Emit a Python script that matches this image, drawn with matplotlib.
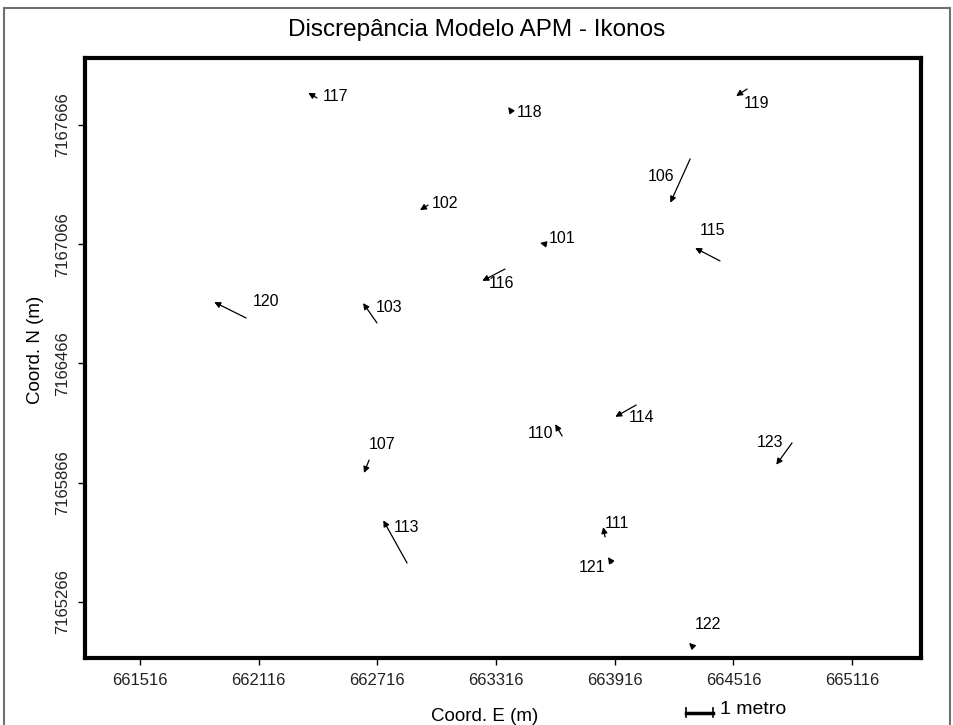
import matplotlib
matplotlib.use("Agg")
import matplotlib.pyplot as plt
import matplotlib.transforms as mtransforms
from matplotlib.patches import Rectangle

plt.rcParams['font.family'] = ['Liberation Sans', 'DejaVu Sans']

# pontos de controle: coordenadas (m) e discrepancias dE, dN (m)
pontos = ['117', '118', '102', '106', '119', '115', '120', '103', '107',
          '113', '110', '114', '111', '121', '122', '123', '101', '116']
coord_e = [662411, 663392, 662972, 664297, 664585, 664448, 662052, 662714, 662674,
           662866, 663650, 664024, 663867, 663902, 664312, 664812, 663564, 663361]
coord_n = [7167802, 7167736, 7167263, 7167495, 7167847, 7166982, 7166695, 7166670, 7165980,
           7165462, 7166101, 7166257, 7165593, 7165462, 7165040, 7166066, 7167067, 7166941]
disc_e = [-0.33, -0.11, -0.30, -0.74, -0.41, -0.93, -1.19, -0.52, -0.19,
          -0.89, -0.26, -0.78, -0.07, -0.15, -0.15, -0.59, -0.19, -0.85]
disc_n = [0.19, 0.15, -0.19, -1.63, -0.26, 0.48, 0.59, 0.74, -0.48,
          1.59, 0.44, -0.44, 0.37, 0.22, 0.15, -0.81, 0.04, -0.44]

ticks_e = [661516, 662116, 662716, 663316, 663916, 664516, 665116]
ticks_n = [7165266, 7165866, 7166466, 7167066, 7167666]

escala = 135.0  # 1 metro de discrepancia no mapa

# deslocamento dos rotulos (pixels)
desloc = [(18, 1), (18, -1), (17, 2), (-29, -18), (9, -14), (-8, 30), (20, 16), (12, 15), (13, 16),
          (-1, 36), (-22, 3), (5, -12), (12, 13), (-20, -4), (15, 22), (-22, 0), (17, 6), (-3, -14)]

fig = plt.figure(figsize=(9.54, 7.25), dpi=100)
ax = fig.add_axes([0.0891, 0.0924, 0.8763, 0.8276])

for nome, e, n, de, dn, (ox, oy) in zip(pontos, coord_e, coord_n, disc_e, disc_n, desloc):
    ax.annotate('', xy=(e + de * escala, n + dn * escala), xytext=(e, n),
                arrowprops=dict(arrowstyle='-|>', color='black', lw=0.9,
                                mutation_scale=9, shrinkA=0, shrinkB=0))
    ax.annotate(nome, xy=(e, n), xytext=(ox, oy), textcoords='offset pixels',
                ha='center', va='center', fontsize=11.5)

ax.set_xlim(661238, 665464)
ax.set_ylim(7164984, 7168003)
ax.set_xticks(ticks_e)
ax.set_yticks(ticks_n)
ax.set_xticklabels([str(t) for t in ticks_e], fontsize=12, color='#222222')
ax.set_yticklabels([str(t) for t in ticks_n], fontsize=12, color='#222222',
                   rotation=90, va='center')
ax.tick_params(length=5, width=1, pad=6)
for s in ax.spines.values():
    s.set_linewidth(3)

fig.text(0.5, 0.958, 'Discrepância Modelo APM - Ikonos', ha='center', va='center', fontsize=17.5)
fig.text(0.508, 0.012, 'Coord. E (m)', ha='center', va='center', fontsize=13.5)
fig.text(0.037, 0.517, 'Coord. N (m)', ha='center', va='center', rotation=90, fontsize=13.5)

# barra de escala
tr = mtransforms.blended_transform_factory(ax.transData, fig.transFigure)
x0 = 664276
yb = 0.017
ax.plot([x0, x0 + escala], [yb, yb], color='black', lw=2.5, transform=tr, clip_on=False)
ax.plot([x0, x0], [yb - 0.006, yb + 0.006], color='black', lw=1.2, transform=tr, clip_on=False)
ax.plot([x0 + escala, x0 + escala], [yb - 0.006, yb + 0.006], color='black', lw=1.2,
        transform=tr, clip_on=False)
ax.text(x0 + escala + 35, yb + 0.005, '1 metro', transform=tr, ha='left', va='center', fontsize=14)

fig.add_artist(Rectangle((4 / 954, -0.05), 946 / 954, 0.989 + 0.05, transform=fig.transFigure,
                         fill=False, edgecolor='#707070', lw=1.5))

fig.savefig('out.png', dpi=100)
